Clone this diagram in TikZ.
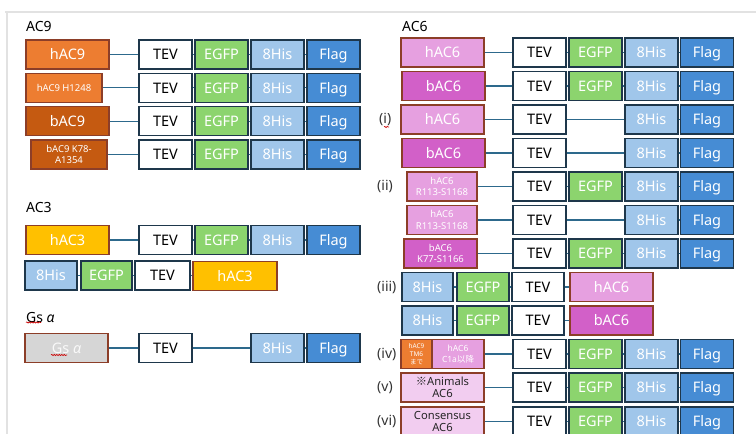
\documentclass[tikz,border=0pt]{standalone}
\usepackage{fontspec}
\setmainfont{Noto Sans}
\newfontfamily\jp{Noto Sans CJK JP}
\usetikzlibrary{decorations.pathmorphing}
\definecolor{genebd}{RGB}{140,62,40}
\definecolor{tagbd}{RGB}{30,55,75}
\definecolor{clink}{RGB}{45,105,140}
\definecolor{cEGFP}{RGB}{140,212,110}
\definecolor{cHis}{RGB}{160,198,234}
\definecolor{cFlag}{RGB}{70,140,212}
\definecolor{hnine}{RGB}{237,125,49}
\definecolor{bnine}{RGB}{197,90,17}
\definecolor{hthree}{RGB}{255,192,0}
\definecolor{hsix}{RGB}{230,160,224}
\definecolor{bsix}{RGB}{210,96,200}
\definecolor{lsix}{RGB}{242,205,240}
\definecolor{gsgray}{RGB}{214,214,214}
\definecolor{framegray}{RGB}{226,226,226}
\tikzset{
  frameline/.style={draw=framegray, line width=2pt},
  bigtxt/.style={font=\fontsize{14.5}{15}\selectfont},
  oneline/.style={text height=10.4pt, text depth=0pt},
  gene/.style={draw=genebd, line width=1.2pt, text=white, inner sep=0pt, minimum height=29pt, bigtxt, align=center},
  gene1/.style={gene, oneline},
  tagbox/.style={draw=tagbd, line width=1.4pt, inner sep=0pt, minimum height=29pt, minimum width=53pt, text=white, bigtxt, oneline},
  tev/.style={tagbox, fill=white, text=black},
  egfp/.style={tagbox, fill=cEGFP},
  his/.style={tagbox, fill=cHis},
  flagbox/.style={tagbox, fill=cFlag},
  link/.style={draw=clink, line width=1.2pt},
  hdr/.style={font=\fontsize{14}{14}\selectfont, text=black, inner sep=0pt, anchor=west},
  roman/.style={font=\fontsize{14}{14}\selectfont, text=black!80, inner sep=0pt, anchor=west},
  smalltxt/.style={font=\fontsize{9.5}{11.5}\selectfont},
  tinytxt/.style={font=\fontsize{6.5}{7.8}\selectfont},
  midtxt/.style={font=\fontsize{11.2}{12.5}\selectfont},
  squig/.style={draw=red!80!black, line width=0.6pt, decorate, decoration={snake, amplitude=0.6pt, segment length=2.5pt}}
}
% left standard tag row: prefix, y, with EGFP (1) or not (0)
\newcommand\lrow[3]{%
  \node[tev] (#1t) at (165.5,#2) {TEV};
  \ifnum#3=1 \node[egfp] (#1e) at (221.5,#2) {EGFP};\fi
  \node[his] (#1h) at (277.5,#2) {8His};
  \node[flagbox] (#1f) at (333.5,#2) {Flag};
  \draw[link] (#1g.east) -- (#1t.west);
  \ifnum#3=1 \draw[link] (#1t) -- (#1e); \draw[link] (#1e) -- (#1h);\else \draw[link] (#1t) -- (#1h);\fi
  \draw[link] (#1h) -- (#1f);
}
\newcommand\rrow[3]{%
  \node[tev] (#1t) at (539.5,#2) {TEV};
  \ifnum#3=1 \node[egfp] (#1e) at (595.5,#2) {EGFP};\fi
  \node[his] (#1h) at (651.5,#2) {8His};
  \node[flagbox] (#1f) at (707,#2) {Flag};
  \draw[link] (#1g.east) -- (#1t.west);
  \ifnum#3=1 \draw[link] (#1t) -- (#1e); \draw[link] (#1e) -- (#1h);\else \draw[link] (#1t) -- (#1h);\fi
  \draw[link] (#1h) -- (#1f);
}
\begin{document}
\begin{tikzpicture}[x=1pt,y=-1pt]
\useasboundingbox (0,0) rectangle (756,434);
\fill[white] (0,0) rectangle (756,434);
\draw[frameline] (5,12) -- (756,12);
\draw[frameline] (7,12) -- (7,434);

% ---------- AC9 ----------
\node[hdr] (lac9) at (26,27) {AC9};
\node[gene1, fill=hnine, minimum width=83pt] (aag) at (67.5,54.5) {hAC9};
\lrow{aa}{54.5}{1}
\node[gene, fill=hnine, minimum width=76pt, smalltxt] (abg) at (64,87.8) {hAC9 H1248};
\lrow{ab}{87.8}{1}
\node[gene1, fill=bnine, minimum width=83pt] (acg) at (67.5,121.2) {bAC9};
\lrow{ac}{121.2}{1}
\node[gene, fill=bnine, minimum width=76pt, smalltxt] (adg) at (69,154.5) {bAC9 K78-\\A1354};
\lrow{ad}{154.5}{1}

% ---------- AC3 ----------
\node[hdr] (lac3) at (26,207) {AC3};
\node[gene1, fill=hthree, minimum width=83pt] (bag) at (67.5,240) {hAC3};
\lrow{ba}{240}{1}
\node[his, minimum width=52pt] (bbh) at (51,275.5) {8His};
\node[egfp, minimum width=51pt] (bbe) at (106.5,275.5) {EGFP};
\node[tev, minimum width=55pt] (bbt) at (162.5,275.5) {TEV};
\node[gene1, fill=hthree, minimum width=84pt] (bbg) at (235,276) {hAC3};
\draw[link] (bbh) -- (bbe);
\draw[link] (bbe) -- (bbt);
\draw[link] (bbt.east) -- (bbt.east -| bbg.west);

% ---------- Gs alpha ----------
\node[hdr] (lgs) at (26,317) {Gs \textit{α}};
\draw[squig] (26,322.5) -- (41,322.5);
\node[gene1, fill=gsgray, minimum width=83pt, text=white!95!gray] (cag) at (66.5,348) {Gs \textit{α}};
\draw[squig] (51,355) -- (67,355);
\node[tev] (cat) at (165.5,348) {TEV};
\node[his] (cah) at (277.5,348) {8His};
\node[flagbox] (caf) at (333.5,348) {Flag};
\draw[link] (cag) -- (cat);
\draw[link] (cat) -- (cah);
\draw[link] (cah) -- (caf);

% ---------- AC6 ----------
\node[hdr] (lac6) at (402,27) {AC6};
\node[gene1, fill=hsix, minimum width=83pt] (r1g) at (442.5,52.5) {hAC6};
\rrow{r1}{52.5}{1}
\node[gene1, fill=bsix, minimum width=83pt] (r2g) at (443.5,86) {bAC6};
\rrow{r2}{86}{1}
\node[roman] (ri) at (379,119.5) {(i)};
\draw[squig] (384,127) -- (389,127);
\node[gene1, fill=hsix, minimum width=83pt] (r3g) at (442.5,119.5) {hAC6};
\rrow{r3}{119.5}{0}
\node[gene1, fill=bsix, minimum width=83pt] (r4g) at (443.5,153) {bAC6};
\rrow{r4}{153}{0}
\node[roman] (rii) at (377,186.5) {(ii)};
\node[gene, fill=hsix, minimum width=70pt, smalltxt] (r5g) at (442,186.5) {hAC6\\R113-S1168};
\rrow{r5}{186.5}{1}
\node[gene, fill=hsix, minimum width=70pt, smalltxt] (r6g) at (442,220) {hAC6\\R113-S1168};
\rrow{r6}{220}{0}
\node[gene, fill=bsix, minimum width=73pt, smalltxt] (r7g) at (440.5,253.5) {bAC6\\K77-S1166};
\rrow{r7}{253.5}{1}
\node[roman] (riii) at (377,287) {(iii)};
\node[his, minimum width=51pt] (r8h) at (427.5,287) {8His};
\node[egfp, minimum width=52pt] (r8e) at (483,287) {EGFP};
\node[tev, minimum width=52pt] (r8t) at (538,287) {TEV};
\node[gene1, fill=hsix, minimum width=83pt] (r8g) at (611.5,287) {hAC6};
\draw[link] (r8h) -- (r8e); \draw[link] (r8e) -- (r8t); \draw[link] (r8t) -- (r8g);
\node[his, minimum width=51pt] (r9h) at (427.5,320.5) {8His};
\node[egfp, minimum width=52pt] (r9e) at (483,320.5) {EGFP};
\node[tev, minimum width=52pt] (r9t) at (538,320.5) {TEV};
\node[gene1, fill=bsix, minimum width=83pt] (r9g) at (611.5,320.5) {bAC6};
\draw[link] (r9h) -- (r9e); \draw[link] (r9e) -- (r9t); \draw[link] (r9t) -- (r9g);
\node[roman] (riv) at (377,354) {(iv)};
\node[gene, fill=hnine, minimum width=31pt, tinytxt] (r10a) at (416.5,354) {hAC9\\TM6\\{\jp まで}};
\node[gene, fill=hsix, minimum width=52pt, font=\fontsize{8.5}{11}\selectfont] (r10g) at (458,354) {hAC6\\C1a{\jp 以降}};
\rrow{r10}{354}{1}
\node[roman] (rv) at (377,387.5) {(v)};
\node[gene, fill=lsix, minimum width=83pt, midtxt, text=black!85] (r11g) at (442.5,387.5) {{\jp ※}Animals\\AC6};
\rrow{r11}{387.5}{1}
\node[roman] (rvi) at (377,421) {(vi)};
\node[gene, fill=lsix, minimum width=83pt, midtxt, text=black!85] (r12g) at (442.5,421.5) {Consensus\\AC6};
\rrow{r12}{421.5}{1}
\end{tikzpicture}
\end{document}
